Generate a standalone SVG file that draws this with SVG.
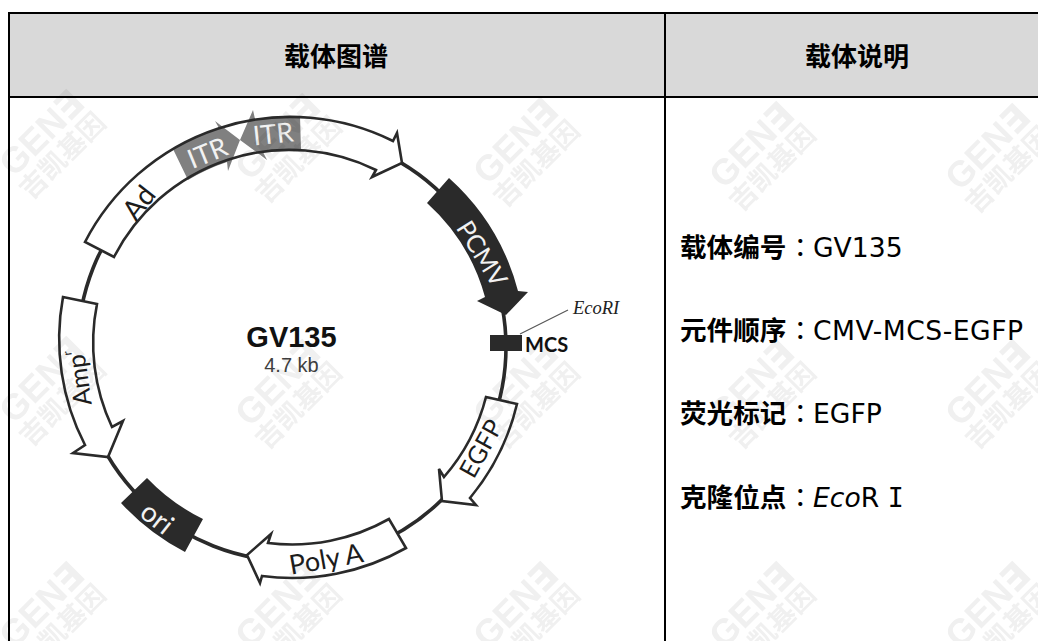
<svg xmlns="http://www.w3.org/2000/svg" width="1038" height="641" viewBox="0 0 1038 641">
<style>
.cell{fill:none;stroke:#000;stroke-width:2}
.wb{fill:#fff;stroke:#2a2a2a;stroke-width:2.6;stroke-linejoin:miter}
.dk{fill:#2a2a2a}
.gr{fill:#808080}
.lb{font-family:"Lato","Open Sans",sans-serif;fill:#1c1c1c;text-anchor:middle;dominant-baseline:central}
.lw{font-family:"Lato","Open Sans",sans-serif;fill:#f2f2f2;text-anchor:middle;dominant-baseline:central}
.hd{font-family:"Noto Sans CJK SC",sans-serif;font-weight:700;font-size:26px;text-anchor:middle;fill:#000}
.k{font-family:"Noto Sans CJK SC",sans-serif;font-weight:700;font-size:26.6px;fill:#000}
.c{font-family:"Noto Sans CJK TC",sans-serif;font-size:26.6px;fill:#000}
.v{font-family:"DejaVu Sans",sans-serif;font-size:26.6px;fill:#000}
.wm1{font-family:"Liberation Sans","DejaVu Sans",sans-serif;font-weight:700;font-size:36px;fill:#f0f0f0}
.wm2{font-family:"Noto Sans CJK SC",sans-serif;font-weight:700;font-size:27px;fill:#f0f0f0}
.wm{mix-blend-mode:multiply}
</style>
<defs>
<g id="mark">
<text class="wm1" x="0" y="0" transform="rotate(-45)">GEN∃</text>
<text class="wm2" x="-4" y="28" transform="rotate(-45)">吉凯基因</text>
</g>
</defs>
<rect width="1038" height="641" fill="#fff"/>
<g id="table">
<rect x="10" y="14" width="1028" height="83" fill="#d9d9d9"/>
<path class="cell" d="M1038 13H9V641M9 97H1038M665 13V641"/>
<text class="hd" x="336" y="66">载体图谱</text>
<text class="hd" x="857" y="66">载体说明</text>
</g>
<g id="connectors">
<circle cx="292" cy="347" r="214" fill="none" stroke="#2a2a2a" stroke-width="3.6"/>
<line x1="520" y1="334" x2="568" y2="310" stroke="#555" stroke-width="1.1"/>
</g>
<g id="node-ad-itr">
<path d="M85 242A231 231 0 0 1 393 141L397 133L402 163L372 177L376 170A197 197 0 0 0 114 257Z" fill="#fff"/>
<path class="gr" d="M173 149A231 231 0 0 1 219 128L215 121L240 140L228 171L227 162A197 197 0 0 0 188 180Z"/>
<path class="gr" d="M300 116L301 150A197 197 0 0 0 263 152L267 160L240 140L253 110L255 119A231 231 0 0 1 300 116Z"/>
<path class="wb" style="fill:none" d="M85 242A231 231 0 0 1 393 141L397 133L402 163L372 177L376 170A197 197 0 0 0 114 257Z"/>
<text class="lb" font-size="28" transform="translate(138 202) rotate(-52)">Ad</text>
<text class="lw" font-size="27" transform="translate(207 152) rotate(-22)">ITR</text>
<text class="lw" font-size="27" transform="translate(273 133) rotate(-6)">ITR</text>
</g>
<g id="node-pcmv">
<path class="dk" d="M449 178A231 231 0 0 1 518 291L528 292L506 315L477 301L485 297A197 197 0 0 0 427 203Z"/>
<text class="lw" font-size="25" transform="translate(483 253) rotate(58)">PCMV</text>
</g>
<g id="node-mcs">
<rect class="dk" x="490" y="335" width="32" height="16"/>
<text x="525" y="352" font-family="Lato,sans-serif" font-weight="700" font-size="20" fill="#111">MCS</text>
<text x="573" y="314" font-family="Liberation Serif,serif" font-style="italic" font-size="18.500" fill="#222">EcoRI</text>
</g>
<g id="node-egfp">
<path class="wb" d="M517 404A231 231 0 0 1 470 498L476 505L442 501L439 469L444 477A197 197 0 0 0 486 397Z"/>
<text class="lb" font-size="25" transform="translate(480 448) rotate(-61)">EGFP</text>
</g>
<g id="node-polya">
<path class="wb" d="M406 548A231 231 0 0 1 262 576L260 583L247 555L271 534L268 543A197 197 0 0 0 389 519Z"/>
<text class="lb" font-size="27" transform="translate(326 558) rotate(-10)">Poly A</text>
</g>
<g id="node-ori">
<path class="dk" d="M147 478A197 197 0 0 0 203 519L185 552A231 231 0 0 1 121 503Z"/>
<text class="lw" font-size="28" transform="translate(158 517) rotate(38)">ori</text>
</g>
<g id="node-amp">
<path class="wb" d="M63 297A231 231 0 0 0 85 445L73 453L108 457L123 421L112 427A197 197 0 0 1 97 304Z"/>
<text class="lb" font-size="25" transform="translate(78 378) rotate(-98)">Amp<tspan font-size="12" dy="-8">r</tspan></text>
</g>
<g id="node-title">
<text x="291.500" y="347" font-family="Liberation Sans,sans-serif" font-weight="700" font-size="29" text-anchor="middle" fill="#111">GV135</text>
<text x="291.500" y="372" font-family="Liberation Sans,sans-serif" font-size="20" text-anchor="middle" fill="#404040">4.7 kb</text>
</g>
<g id="node-info">
<text class="k" x="680" y="257">载体编号</text><text class="c" x="787" y="257">：</text><text class="v" x="813" y="257">GV135</text>
<text class="k" x="680" y="340">元件顺序</text><text class="c" x="787" y="340">：</text><text class="v" x="813" y="340" letter-spacing="0.5">CMV-MCS-EGFP</text>
<text class="k" x="680" y="423">荧光标记</text><text class="c" x="787" y="423">：</text><text class="v" x="813" y="423">EGFP</text>
<text class="k" x="680" y="507">克隆位点</text><text class="c" x="787" y="507">：</text><text class="v" x="813" y="507"><tspan font-style="italic">Eco</tspan>R <tspan font-family="DejaVu Sans Mono,monospace">I</tspan></text>
</g>
<g id="watermarks" class="wm">
<use href="#mark" x="14" y="178"/><use href="#mark" x="250" y="182"/><use href="#mark" x="488" y="186"/><use href="#mark" x="724" y="190"/><use href="#mark" x="960" y="192"/>
<use href="#mark" x="14" y="425"/><use href="#mark" x="250" y="428"/><use href="#mark" x="488" y="428"/><use href="#mark" x="724" y="428"/><use href="#mark" x="960" y="428"/>
<use href="#mark" x="14" y="650"/><use href="#mark" x="250" y="650"/><use href="#mark" x="488" y="650"/><use href="#mark" x="724" y="650"/><use href="#mark" x="960" y="650"/>
</g>
</svg>
